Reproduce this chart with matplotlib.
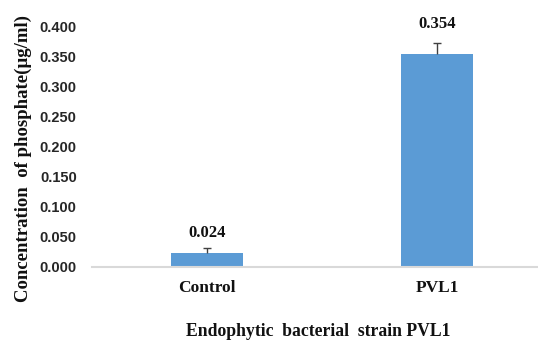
import matplotlib
matplotlib.use("Agg")
import matplotlib.pyplot as plt
import numpy as np

categories = ["Control", "PVL1"]
values = [0.024, 0.354]
errors = [0.008, 0.018]
label_texts = ["0.024", "0.354"]
yticks = [0.0, 0.05, 0.10, 0.15, 0.20, 0.25, 0.30, 0.35, 0.40]

W, H = 538, 343
fig = plt.figure(figsize=(W / 100, H / 100), dpi=100)
ax = fig.add_axes([92 / W, (H - 267) / H, 460 / W, (267 - 26) / H])

x = np.arange(len(categories))
ax.bar(x, values, width=72 / 230, color="#5b9bd5", zorder=2)
tops = np.array(values) + np.array(errors)
ax.vlines(x, values, tops, color="#404040", linewidth=1, zorder=3)
ax.hlines(tops, x - 0.018, x + 0.018, color="#404040", linewidth=1, zorder=3)

offsets = [7, 11]
for xi, top, t, off in zip(x, tops, label_texts, offsets):
    ax.annotate(t, (xi, top), xytext=(0, off), textcoords="offset pixels",
                ha="center", va="bottom", fontsize=12, fontweight="bold",
                family="Liberation Serif", color="#111111")

ax.set_xlim(-0.5, 1.5)
ax.set_ylim(0, 0.4)
ax.set_yticks(yticks)
ax.set_yticklabels([f"{t:.3f}" for t in yticks], fontsize=10.5,
                   fontweight="bold", family="Liberation Sans", color="#262626")
ax.set_xticks(x)
ax.set_xticklabels(categories, fontsize=12.5, fontweight="bold",
                   family="Liberation Serif", color="#111111")
ax.tick_params(axis="both", length=0)
ax.tick_params(axis="y", pad=11)
ax.tick_params(axis="x", pad=9)

for s in ["top", "right", "left"]:
    ax.spines[s].set_visible(False)
ax.spines["bottom"].set_color("#d9d9d9")
ax.spines["bottom"].set_linewidth(1.5)

fig.text(23 / W, 1 - 158 / H, "Concentration  of phosphate(\u00b5g/ml)", rotation=90,
         ha="center", va="center", fontsize=13.5, fontweight="bold",
         family="Liberation Serif", color="#111111")
fig.text(318 / W, 1 - 332 / H, "Endophytic  bacterial  strain PVL1",
         ha="center", va="center", fontsize=12.7, fontweight="bold",
         family="Liberation Serif", color="#111111")

fig.savefig("out.png", dpi=100)
